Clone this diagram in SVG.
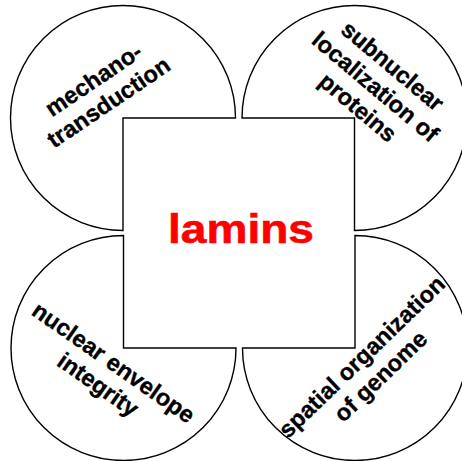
<svg xmlns="http://www.w3.org/2000/svg" width="462" height="461" viewBox="0 0 462 461">
<style>
.pie{fill:#fff;stroke:#000;stroke-width:1.4}
.lbl{font-family:"Liberation Sans",Arial,sans-serif;font-weight:bold;font-size:23.5px;fill:#000;stroke:#000;stroke-width:0.35;text-anchor:middle}
.title{font-family:"Liberation Sans",Arial,sans-serif;font-weight:bold;font-size:41px;fill:#f00;stroke:#f00;stroke-width:0.6;text-anchor:middle}
</style>
<rect width="462" height="461" fill="#fff"/>
<g id="connectors"></g>
<g id="node-mechanotransduction">
<path class="pie" d="M123,118 L235.5,118 A112.5,112.5 0 1 0 123,230.5 Z"/>
<g transform="translate(98,86.5) rotate(-34)">
<text class="lbl" x="0" y="0">mechano-</text>
<text class="lbl" x="0" y="27">transduction</text>
</g>
</g>
<g id="node-subnuclear">
<path class="pie" d="M354.5,118 L354.5,230.5 A112.5,112.5 0 1 0 242,118 Z"/>
<g transform="translate(387.5,72.2) rotate(40)">
<text class="lbl" x="0" y="0">subnuclear</text>
<text class="lbl" x="0" y="27">localization of</text>
<text class="lbl" x="0" y="54">proteins</text>
</g>
</g>
<g id="node-nuclear-envelope">
<path class="pie" d="M123.5,348 L123.5,235.5 A112.5,112.5 0 1 0 236,348 Z"/>
<g transform="translate(109,369.1) rotate(35)">
<text class="lbl" x="0" y="0">nuclear envelope</text>
<text class="lbl" x="0" y="27">integrity</text>
</g>
</g>
<g id="node-spatial-organization">
<path class="pie" d="M355,348 L242.5,348 A112.5,112.5 0 1 0 355,235.5 Z"/>
<g transform="translate(367.3,362.5) rotate(-44)">
<text class="lbl" x="0" y="0">spatial organization</text>
<text class="lbl" x="0" y="27">of genome</text>
</g>
</g>
<g id="node-lamins">
<text class="title" x="241" y="243" textLength="146" lengthAdjust="spacingAndGlyphs">lamins</text>
</g>
</svg>
